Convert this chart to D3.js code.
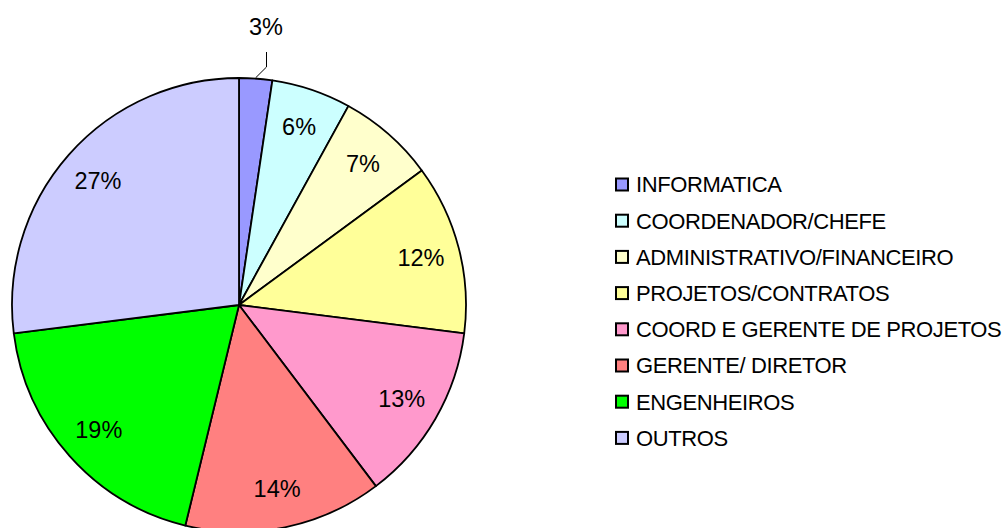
<!DOCTYPE html>
<html>
<head>
<meta charset="utf-8">
<script src="https://cdn.jsdelivr.net/npm/d3@7"></script>
<style>
  body { margin: 0; background: #fff; }
  svg { font-family: "Liberation Sans", Arial, sans-serif; }
</style>
</head>
<body>
<div id="chart"></div>
<script>

// data
var categories = ["INFORMATICA", "COORDENADOR/CHEFE", "ADMINISTRATIVO/FINANCEIRO", "PROJETOS/CONTRATOS",
                  "COORD E GERENTE DE PROJETOS", "GERENTE/ DIRETOR", "ENGENHEIROS", "OUTROS"];
var shares = [2.35, 5.65, 6.9, 12.1, 12.7, 14.1, 19.2, 27.0];
var pct_labels = ["3%", "6%", "7%", "12%", "13%", "14%", "19%", "27%"];
var colors = ["#9999FF", "#CCFFFF", "#FFFFCC", "#FFFF99", "#FF99CC", "#FF8080", "#00FF00", "#CCCCFF"];

var width = 1008, height = 528;
var cx = 239, cy = 305, radius = 227;

var svg = d3.select("#chart")
  .append("svg")
  .attr("width", width)
  .attr("height", height);

var pie = d3.pie().sort(null).value(function(d){ return d; });
var arcs = pie(shares);

var arc = d3.arc().innerRadius(0).outerRadius(radius);
var label_arc = d3.arc().innerRadius(188).outerRadius(188);

var g = svg.append("g").attr("transform", "translate(" + cx + "," + cy + ")");

g.selectAll("path")
  .data(arcs)
  .enter()
  .append("path")
    .attr("d", arc)
    .attr("fill", function(d, i){ return colors[i]; })
    .attr("stroke", "black")
    .attr("stroke-width", 1.8)
    .attr("stroke-linejoin", "round");

// labels inside slices, the small first one goes outside with a leader line
g.selectAll("text.pct")
  .data(arcs)
  .enter()
  .append("text")
    .attr("class", "pct")
    .attr("transform", function(d, i){
      if (i == 0) return "translate(27,-278)";
      var c = label_arc.centroid(d);
      return "translate(" + c[0] + "," + c[1] + ")";
    })
    .attr("dy", "0.35em")
    .style("text-anchor", "middle")
    .style("font-size", "23.5px")
    .text(function(d, i){ return pct_labels[i]; });

var a0 = (arcs[0].startAngle + arcs[0].endAngle) / 2;
var edge = [Math.sin(a0) * (radius + 1), -Math.cos(a0) * (radius + 1)];
g.append("path")
  .attr("d", "M" + edge[0] + "," + edge[1] + "L27.5,-238L27.5,-253")
  .attr("fill", "none")
  .attr("stroke", "black")
  .attr("stroke-width", 1);

// legend
var legend = svg.append("g").attr("transform", "translate(615,184.5)");
var row_h = 36.2;

var rows = legend.selectAll("g")
  .data(categories)
  .enter()
  .append("g")
    .attr("transform", function(d, i){ return "translate(0," + (i * row_h) + ")"; });

rows.append("rect")
  .attr("x", 1)
  .attr("y", -6)
  .attr("width", 12)
  .attr("height", 12)
  .attr("fill", function(d, i){ return colors[i]; })
  .attr("stroke", "black")
  .attr("stroke-width", 2);

rows.append("text")
  .attr("x", 21)
  .attr("dy", "0.36em")
  .style("font-size", "22px")
  .style("letter-spacing", "-0.4px")
  .text(function(d){ return d; });

</script>
</body>
</html>
